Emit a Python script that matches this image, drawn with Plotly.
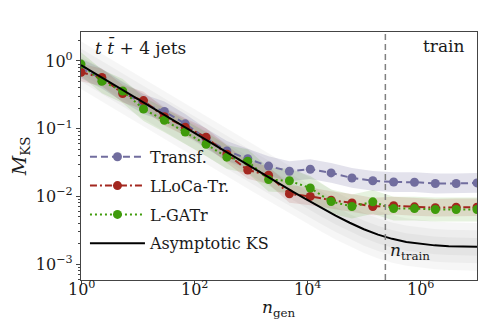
import plotly.graph_objects as go

# generated sample sizes (log spaced, 20 points)
n_gen = [1, 2.336, 5.456, 12.74, 29.76, 69.52, 162.4, 379.3, 886.0, 2069,
         4833, 11290, 26370, 61590, 143900, 336000, 784800, 1833000, 4281000, 1e7]

transf = [0.78, 0.55, 0.35, 0.23, 0.18, 0.118, 0.072, 0.047, 0.036, 0.028,
          0.0235, 0.0252, 0.0222, 0.0187, 0.0170, 0.0163, 0.0162, 0.0155, 0.0155, 0.0158]
lloca = [0.68, 0.57, 0.33, 0.26, 0.15, 0.105, 0.075, 0.042, 0.0245, 0.0205,
         0.0109, 0.0100, 0.0088, 0.0080, 0.0071, 0.0073, 0.0070, 0.0068, 0.0069, 0.0069]
lgatr = [0.90, 0.50, 0.36, 0.195, 0.133, 0.089, 0.059, 0.038, 0.033, 0.0177,
         0.0170, 0.0133, 0.0084, 0.0071, 0.0083, 0.0066, 0.0066, 0.0064, 0.0064, 0.0064]

# relative spread of the shaded uncertainty band of each model
spread_transf = 1.4
spread_lloca = 1.35
spread_lgatr = 1.5

# asymptotic KS curve
n_asym = [1, 1.778, 3.162, 5.623, 10, 17.78, 31.62, 56.23, 100, 177.8, 316.2, 562.3,
          1000, 1778, 3162, 5623, 1e4, 17780, 31620, 56230, 1e5, 177800, 316200,
          562300, 1e6, 1778000, 3162000, 5623000, 1e7]
ks_asym = [0.870, 0.652, 0.489, 0.367, 0.275, 0.206, 0.155, 0.116, 0.0870, 0.0652,
           0.0489, 0.0367, 0.0276, 0.0207, 0.0156, 0.0117, 0.00888, 0.00676, 0.00520,
           0.00408, 0.00327, 0.00272, 0.00236, 0.00212, 0.00198, 0.00189, 0.00184,
           0.00181, 0.00180]
asym_band_factors = [2.25, 1.75, 1.35]

N_TRAIN = 2.4e5

x_ticks = [1, 1e2, 1e4, 1e6]
x_tickpos = [0, 2, 4, 6]
x_ticktext = ['10<sup>0</sup>', '10<sup>2</sup>', '10<sup>4</sup>', '10<sup>6</sup>']
y_ticks = [1e-3, 1e-2, 1e-1, 1]
y_ticktext = ['10<sup>\u22123</sup>', '10<sup>\u22122</sup>', '10<sup>\u22121</sup>', '10<sup>0</sup>']

FONT = 'DejaVu Serif'
PURPLE = '#716d9e'
RED = '#a3271f'
GREEN = '#3f9b0b'


def band(x, y, f, color):
    upper = [v * f for v in y]
    lower = [v / f for v in y]
    return go.Scatter(x=list(x) + list(x)[::-1], y=upper + lower[::-1],
                      fill='toself', fillcolor=color, mode='lines',
                      line=dict(width=0), hoverinfo='skip', showlegend=False)


fig = go.Figure()

for f in asym_band_factors:
    fig.add_trace(band(n_asym, ks_asym, f, 'rgba(0,0,0,0.035)'))

fig.add_trace(band(n_gen, transf, spread_transf, 'rgba(113,109,158,0.2)'))
fig.add_trace(band(n_gen, lloca, spread_lloca, 'rgba(163,39,31,0.13)'))
fig.add_trace(band(n_gen, lgatr, spread_lgatr, 'rgba(63,155,11,0.13)'))

fig.add_trace(go.Scatter(x=n_gen, y=transf, name='Transf.', mode='lines+markers',
                         legendgroup='a',
                         line=dict(color=PURPLE, width=2, dash='7px,4px'),
                         marker=dict(size=9, color=PURPLE)))
fig.add_trace(go.Scatter(x=n_gen, y=lloca, name='LLoCa-Tr.', mode='lines+markers',
                         legendgroup='b',
                         line=dict(color=RED, width=2, dash='7px,3px,2px,3px'),
                         marker=dict(size=9, color=RED)))
fig.add_trace(go.Scatter(x=n_gen, y=lgatr, name='L-GATr', mode='lines+markers',
                         legendgroup='c',
                         line=dict(color=GREEN, width=2, dash='2px,3px'),
                         marker=dict(size=9, color=GREEN)))
fig.add_trace(go.Scatter(x=n_asym, y=ks_asym, name='Asymptotic KS', mode='lines',
                         legendgroup='d',
                         line=dict(color='black', width=2)))

fig.add_shape(type='line', xref='x', yref='paper', x0=N_TRAIN, x1=N_TRAIN, y0=0, y1=1,
              line=dict(color='#808080', width=1.5, dash='6px,4px'))

fig.add_annotation(xref='x domain', yref='y domain', x=0.03, y=0.99,
                   xanchor='left', yanchor='top', showarrow=False,
                   text='<i>t</i> <i>t\u0304</i> + 4 jets', font=dict(size=17))
fig.add_annotation(xref='x domain', yref='y domain', x=0.975, y=0.99,
                   xanchor='right', yanchor='top', showarrow=False,
                   text='train', font=dict(size=17))
fig.add_annotation(xref='x', yref='y domain', x=5.43, y=0.06,
                   xanchor='left', yanchor='bottom', showarrow=False,
                   text='<i>n</i><sub>train</sub>', font=dict(size=17))

# x tick labels and title placed by hand (closer to the axis than plotly's default)
for p, t in zip(x_tickpos, x_ticktext):
    fig.add_annotation(xref='x', yref='paper', x=p, y=0.015,
                       xanchor='center', yanchor='top', showarrow=False, text=t,
                       font=dict(size=16))
fig.add_annotation(xref='paper', yref='paper', x=0.5, y=-0.115,
                   xanchor='center', yanchor='middle', showarrow=False,
                   text='<i>n</i><sub>gen</sub>', font=dict(size=17))

fig.update_layout(
    width=488, height=326,
    margin=dict(l=73, r=19, t=24, b=54),
    paper_bgcolor='white', plot_bgcolor='white',
    font=dict(family=FONT, size=16, color='#1a1a1a'),
    showlegend=True,
    legend=dict(x=0.01, y=0.565, xanchor='left', yanchor='top',
                traceorder='grouped', tracegroupgap=5, itemwidth=55,
                bgcolor='rgba(0,0,0,0)', font=dict(size=16)),
)
fig.update_xaxes(type='log', range=[0, 7], tickvals=x_ticks, showticklabels=False,
                 ticks='outside', ticklen=4, tickwidth=1, tickcolor='#444',
                 showgrid=False, zeroline=False, showline=True, mirror=True,
                 linecolor='#444', linewidth=1.2)
fig.update_yaxes(type='log', range=[-3.235, 0.428], tickvals=y_ticks, ticktext=y_ticktext,
                 ticks='outside', ticklen=4, tickwidth=1, tickcolor='#444',
                 minor=dict(ticks='outside', ticklen=2, tickcolor='#444',
                            tickvals=[m * 10.0 ** e for e in range(-4, 1) for m in range(2, 10)]),
                 showgrid=False, zeroline=False, showline=True, mirror=True,
                 linecolor='#444', linewidth=1.2,
                 title=dict(text='<i>M</i><sub>KS</sub>', standoff=4))

fig.write_html("out.html")
